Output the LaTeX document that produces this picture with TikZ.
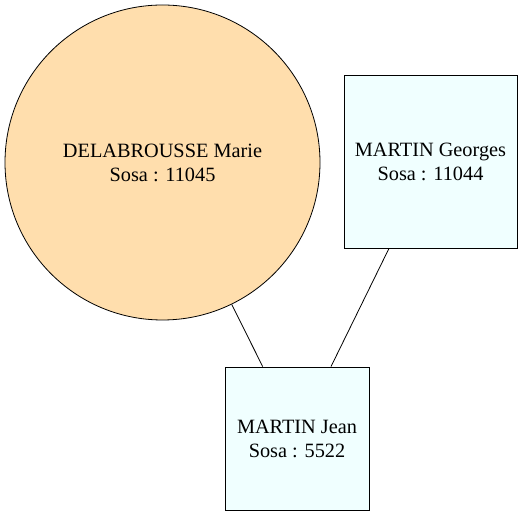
\documentclass[tikz,border=0pt]{standalone}
\usepackage{fontspec}
\setmainfont{Liberation Serif}
\definecolor{circfill}{HTML}{FFDEAD}
\definecolor{boxfill}{HTML}{F0FFFF}
\begin{document}
\begin{tikzpicture}[x=1pt,y=1pt,
  person/.style={draw=black, line width=0.8pt, align=center, font=\fontsize{20.3}{24}\selectfont, inner sep=0pt},
  fem/.style={person, circle, fill=circfill, minimum size=315pt},
  masc/.style={person, rectangle, fill=boxfill},
  link/.style={draw=black, line width=0.8pt}]
\useasboundingbox (0,0) rectangle (525,516);
\node[fem] (dela) at (162.5,353.5) {DELABROUSSE Marie\\Sosa : 11045};
\node[masc, minimum width=173pt, minimum height=173pt] (georges) at (430.5,354.5) {MARTIN Georges\\Sosa : 11044};
\node[masc, minimum width=144pt, minimum height=143pt] (jean) at (297,77.5) {MARTIN Jean\\Sosa : 5522};
\draw[link] (dela.-64) -- ([xshift=-34.3pt]jean.north);
\draw[link] ([xshift=-41.5pt]georges.south) -- ([xshift=34pt]jean.north);
\end{tikzpicture}
\end{document}
